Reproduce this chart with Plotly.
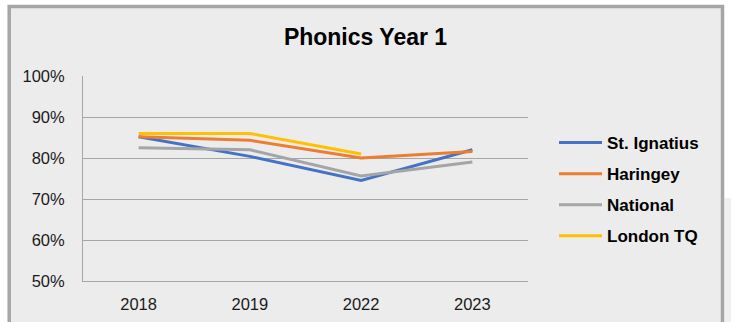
import plotly.graph_objects as go

# chart data
years = ["2018", "2019", "2022", "2023"]
st_ignatius = [85.2, 80.4, 74.5, 82.0]
haringey = [85.2, 84.3, 80.0, 81.6]
national = [82.5, 82.0, 75.6, 79.0]
london_tq = [86.0, 86.0, 81.0, None]
y_ticks = [50, 60, 70, 80, 90, 100]
y_labels = ["{}%".format(v) for v in y_ticks]

series = [
    ("St. Ignatius", st_ignatius, "#4472C4"),
    ("Haringey", haringey, "#ED7D31"),
    ("National", national, "#A5A5A5"),
    ("London TQ", london_tq, "#FFC000"),
]

W, H = 731, 322
L, R, T, B = 83, 528, 76, 281  # plot area in pixels


def px_x(px):
    return (px - L) / (R - L)


def px_y(py):
    return (B - py) / (B - T)


fig = go.Figure()
for i, (name, vals, col) in enumerate(series):
    fig.add_trace(go.Scatter(
        x=years, y=vals, name=name, mode="lines",
        line=dict(color=col, width=3),
        legendgroup="g{}".format(i),
    ))

# outer chart frame and page bits
fig.add_shape(type="rect", xref="paper", yref="paper",
              x0=px_x(724.5), x1=px_x(740), y0=px_y(198), y1=px_y(340),
              fillcolor="#efefef", line=dict(width=0), layer="below")
fig.add_shape(type="rect", xref="paper", yref="paper",
              x0=px_x(9.2), x1=px_x(722.5), y0=px_y(6.5), y1=px_y(345),
              fillcolor="#ececec", line=dict(color="#a6a6a6", width=3.5),
              layer="below")

grid = "#a6a6a6"
fig.update_layout(
    width=W, height=H,
    margin=dict(l=L, r=W - R, t=T, b=H - B, autoexpand=False),
    paper_bgcolor="white", plot_bgcolor="rgba(0,0,0,0)",
    font=dict(family="Liberation Sans, Arial", color="#1a1a1a"),
    title=dict(text="<b>Phonics Year 1</b>", xref="container", yref="container",
               x=365.5 / W, y=1 - 37 / H, xanchor="center", yanchor="middle",
               font=dict(size=23, color="#000000")),
    showlegend=True,
    legend=dict(x=px_x(554), y=px_y(125), xanchor="left", yanchor="top",
                font=dict(size=17, color="#000000", weight="bold"),
                bgcolor="rgba(0,0,0,0)", tracegroupgap=6, itemwidth=43),
    xaxis=dict(showgrid=False, showline=True, linecolor=grid, linewidth=1,
               ticks="", tickfont=dict(size=16.5), ticklabelstandoff=8,
               range=[-0.5, 3.5], automargin=False),
    yaxis=dict(range=[50, 100], tickvals=y_ticks, ticktext=y_labels,
               showgrid=True, gridcolor=grid, gridwidth=1,
               showline=True, linecolor=grid, linewidth=1, zeroline=False,
               ticks="", tickfont=dict(size=16.5), ticklabelstandoff=14,
               automargin=False),
)

# drop the browser's default 8px body margin so the figure sits at 0,0
fig.write_html("out.html", config={"displayModeBar": False},
               post_script="document.body.style.margin='0';")
